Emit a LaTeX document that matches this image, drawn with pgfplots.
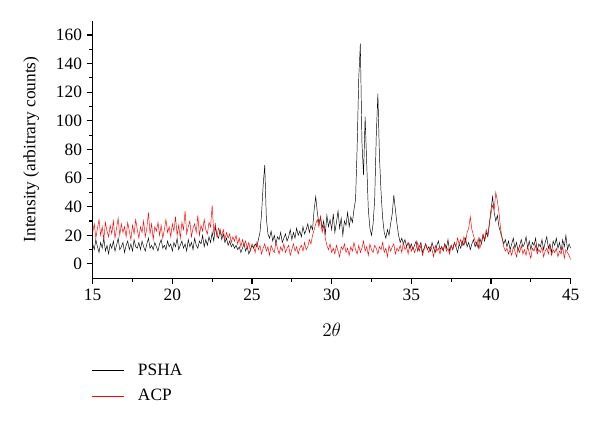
\documentclass[border=0pt]{standalone}
\usepackage{pgfplots}
\pgfplotsset{compat=1.18}
\usepackage{fontspec}
\setmainfont{Liberation Serif}

\begin{document}
\begin{tikzpicture}
\begin{axis}[
  name=ax,
  scale only axis,
  width=358.5pt, height=193.2pt,
  xmin=15, xmax=45, ymin=-10, ymax=170,
  axis x line*=bottom, axis y line*=left,
  axis line style={line width=0.9pt},
  xtick={15,20,...,45}, minor x tick num=1,
  ytick={0,20,...,160}, minor y tick num=1,
  tick align=outside,
  major tick length=4.5pt, minor tick length=2.5pt,
  tick style={line width=0.8pt, black},
  /pgf/number format/assume math mode=true,
  tick label style={font=\fontsize{13}{15}\selectfont},
  every axis x label/.style={at={(axis description cs:0.5,0)}, yshift=-39pt, anchor=center,
    font=\fontsize{13.5}{16}\selectfont},
  every axis y label/.style={at={(axis description cs:0,0.5)}, xshift=-46pt, rotate=90, anchor=center,
    font=\fontsize{13}{15}\selectfont},
  xlabel={$2\theta$},
  ylabel={Intensity (arbitrary counts)},
  legend cell align=left,
  legend style={at={(axis description cs:0,0)}, anchor=north west,
    xshift=-4pt, yshift=-60pt, draw=none, fill=none,
    font=\fontsize{13}{15}\selectfont, row sep=5pt, column sep=4pt,
    nodes={inner xsep=6pt}},
  legend image code/.code={\draw[mark repeat=2, mark phase=2, #1] plot coordinates {(0pt,0pt) (12pt,0pt) (24pt,0pt)};},
  legend image post style={line width=0.8pt},
]
% PSHA
\addplot[black, line width=0.35pt] coordinates {
(15.0,14) (15.1,10) (15.2,17) (15.3,12) (15.4,8) (15.5,15) (15.6,11) (15.7,18) (15.8,9) (15.9,13) (16.0,7)
(16.1,14) (16.2,11) (16.3,16) (16.4,9) (16.5,13) (16.6,18) (16.7,10) (16.8,12) (16.9,15) (17.0,8)
(17.1,13) (17.2,16) (17.3,10) (17.4,14) (17.5,9) (17.6,17) (17.7,12) (17.8,11) (17.9,15) (18.0,10)
(18.1,16) (18.2,12) (18.3,9) (18.4,14) (18.5,18) (18.6,11) (18.7,13) (18.8,10) (18.9,15) (19.0,12)
(19.1,9) (19.2,14) (19.3,17) (19.4,11) (19.5,13) (19.6,10) (19.7,16) (19.8,12) (19.9,14) (20.0,9)
(20.1,15) (20.2,12) (20.3,18) (20.4,10) (20.5,13) (20.6,16) (20.7,11) (20.8,14) (20.9,9) (21.0,17)
(21.1,12) (21.2,15) (21.3,10) (21.4,18) (21.5,13) (21.6,11) (21.7,16) (21.8,14) (21.9,20) (22.0,12)
(22.1,17) (22.2,13) (22.3,19) (22.4,15) (22.5,22) (22.6,16) (22.7,26) (22.8,20) (22.9,18) (23.0,24)
(23.1,17) (23.2,21) (23.3,15) (23.4,18) (23.5,13) (23.6,16) (23.7,12) (23.8,14) (23.9,11) (24.0,13)
(24.1,10) (24.2,12) (24.3,8) (24.4,11) (24.5,14) (24.6,9) (24.7,12) (24.8,7) (24.9,10) (25.0,13)
(25.1,11) (25.2,14) (25.3,12) (25.4,17) (25.5,22) (25.6,35) (25.7,55) (25.8,69) (25.9,32) (26.0,21)
(26.1,18) (26.2,23) (26.3,16) (26.4,20) (26.5,14) (26.6,19) (26.7,17) (26.8,22) (26.9,15) (27.0,18)
(27.1,21) (27.2,16) (27.3,19) (27.4,24) (27.5,17) (27.6,22) (27.7,18) (27.8,25) (27.9,20) (28.0,23)
(28.1,19) (28.2,26) (28.3,21) (28.4,24) (28.5,28) (28.6,22) (28.7,27) (28.8,24) (28.9,38) (29.0,47)
(29.1,36) (29.2,28) (29.3,33) (29.4,25) (29.5,30) (29.6,21) (29.7,34) (29.8,26) (29.9,31) (30.0,24)
(30.1,35) (30.2,22) (30.3,29) (30.4,37) (30.5,25) (30.6,32) (30.7,20) (30.8,30) (30.9,27) (31.0,36)
(31.1,26) (31.2,33) (31.3,29) (31.4,38) (31.5,45) (31.6,82) (31.7,130) (31.8,154) (31.9,85) (32.0,62)
(32.1,103) (32.2,70) (32.3,38) (32.4,25) (32.5,20) (32.6,28) (32.7,45) (32.8,90) (32.9,119) (33.0,75)
(33.1,50) (33.2,32) (33.3,22) (33.4,18) (33.5,24) (33.6,20) (33.7,28) (33.8,35) (33.9,48) (34.0,38)
(34.1,28) (34.2,20) (34.3,15) (34.4,18) (34.5,14) (34.6,17) (34.7,12) (34.8,15) (34.9,11) (35.0,14)
(35.1,10) (35.2,13) (35.3,16) (35.4,9) (35.5,12) (35.6,15) (35.7,8) (35.8,11) (35.9,14) (36.0,10)
(36.1,12) (36.2,9) (36.3,15) (36.4,11) (36.5,8) (36.6,13) (36.7,16) (36.8,10) (36.9,12) (37.0,9)
(37.1,14) (37.2,11) (37.3,17) (37.4,9) (37.5,13) (37.6,10) (37.7,15) (37.8,12) (37.9,8) (38.0,14)
(38.1,11) (38.2,16) (38.3,13) (38.4,18) (38.5,12) (38.6,15) (38.7,10) (38.8,14) (38.9,17) (39.0,12)
(39.1,15) (39.2,11) (39.3,18) (39.4,14) (39.5,20) (39.6,16) (39.7,22) (39.8,19) (39.9,28) (40.0,38)
(40.1,47) (40.2,36) (40.3,30) (40.4,34) (40.5,26) (40.6,22) (40.7,18) (40.8,14) (40.9,17) (41.0,12)
(41.1,16) (41.2,10) (41.3,14) (41.4,18) (41.5,11) (41.6,15) (41.7,9) (41.8,13) (41.9,17) (42.0,12)
(42.1,14) (42.2,19) (42.3,11) (42.4,16) (42.5,10) (42.6,15) (42.7,13) (42.8,18) (42.9,9) (43.0,14)
(43.1,12) (43.2,17) (43.3,10) (43.4,15) (43.5,19) (43.6,11) (43.7,14) (43.8,8) (43.9,16) (44.0,13)
(44.1,18) (44.2,11) (44.3,15) (44.4,9) (44.5,17) (44.6,12) (44.7,20) (44.8,10) (44.9,14) (45.0,11)
};
\addlegendentry{PSHA}
% ACP
\addplot[red, line width=0.35pt] coordinates {
(15.0,22) (15.1,28) (15.2,18) (15.3,25) (15.4,31) (15.5,20) (15.6,26) (15.7,17) (15.8,29) (15.9,23) (16.0,19)
(16.1,27) (16.2,21) (16.3,30) (16.4,18) (16.5,25) (16.6,32) (16.7,20) (16.8,28) (16.9,22) (17.0,26)
(17.1,19) (17.2,29) (17.3,23) (17.4,17) (17.5,27) (17.6,21) (17.7,31) (17.8,24) (17.9,18) (18.0,26)
(18.1,22) (18.2,30) (18.3,19) (18.4,25) (18.5,36) (18.6,21) (18.7,28) (18.8,17) (18.9,26) (19.0,23)
(19.1,29) (19.2,20) (19.3,27) (19.4,18) (19.5,24) (19.6,31) (19.7,22) (19.8,26) (19.9,19) (20.0,28)
(20.1,23) (20.2,33) (20.3,20) (20.4,27) (20.5,18) (20.6,29) (20.7,24) (20.8,37) (20.9,21) (21.0,26)
(21.1,30) (21.2,19) (21.3,25) (21.4,28) (21.5,22) (21.6,34) (21.7,20) (21.8,27) (21.9,23) (22.0,31)
(22.1,24) (22.2,21) (22.3,29) (22.4,26) (22.5,41) (22.6,22) (22.7,28) (22.8,19) (22.9,25) (23.0,22)
(23.1,20) (23.2,24) (23.3,17) (23.4,22) (23.5,18) (23.6,21) (23.7,15) (23.8,19) (23.9,16) (24.0,20)
(24.1,14) (24.2,18) (24.3,12) (24.4,17) (24.5,13) (24.6,16) (24.7,11) (24.8,15) (24.9,9) (25.0,14)
(25.1,12) (25.2,8) (25.3,15) (25.4,10) (25.5,13) (25.6,7) (25.7,11) (25.8,14) (25.9,9) (26.0,12)
(26.1,6) (26.2,13) (26.3,10) (26.4,8) (26.5,15) (26.6,11) (26.7,7) (26.8,12) (26.9,9) (27.0,14)
(27.1,8) (27.2,11) (27.3,13) (27.4,6) (27.5,10) (27.6,14) (27.7,9) (27.8,12) (27.9,7) (28.0,11)
(28.1,13) (28.2,9) (28.3,15) (28.4,10) (28.5,12) (28.6,17) (28.7,14) (28.8,20) (28.9,24) (29.0,28)
(29.1,31) (29.2,26) (29.3,33) (29.4,22) (29.5,27) (29.6,18) (29.7,13) (29.8,10) (29.9,14) (30.0,8)
(30.1,11) (30.2,7) (30.3,13) (30.4,9) (30.5,5) (30.6,12) (30.7,10) (30.8,14) (30.9,8) (31.0,11)
(31.1,6) (31.2,12) (31.3,9) (31.4,15) (31.5,10) (31.6,7) (31.7,13) (31.8,8) (31.9,11) (32.0,16)
(32.1,9) (32.2,12) (32.3,6) (32.4,14) (32.5,10) (32.6,8) (32.7,13) (32.8,11) (32.9,7) (33.0,12)
(33.1,10) (33.2,15) (33.3,8) (33.4,11) (33.5,5) (33.6,13) (33.7,9) (33.8,12) (33.9,14) (34.0,7)
(34.1,11) (34.2,9) (34.3,13) (34.4,8) (34.5,15) (34.6,10) (34.7,12) (34.8,7) (34.9,14) (35.0,9)
(35.1,12) (35.2,8) (35.3,11) (35.4,15) (35.5,9) (35.6,13) (35.7,6) (35.8,10) (35.9,14) (36.0,11)
(36.1,8) (36.2,12) (36.3,10) (36.4,5) (36.5,13) (36.6,9) (36.7,11) (36.8,7) (36.9,12) (37.0,10)
(37.1,14) (37.2,9) (37.3,11) (37.4,7) (37.5,13) (37.6,10) (37.7,15) (37.8,12) (37.9,18) (38.0,14)
(38.1,17) (38.2,13) (38.3,19) (38.4,15) (38.5,22) (38.6,25) (38.7,33) (38.8,24) (38.9,20) (39.0,16)
(39.1,13) (39.2,18) (39.3,11) (39.4,15) (39.5,21) (39.6,17) (39.7,24) (39.8,20) (39.9,29) (40.0,35)
(40.1,41) (40.2,38) (40.3,50) (40.4,44) (40.5,36) (40.6,25) (40.7,18) (40.8,12) (40.9,9) (41.0,11)
(41.1,7) (41.2,10) (41.3,6) (41.4,12) (41.5,9) (41.6,5) (41.7,11) (41.8,8) (41.9,13) (42.0,7)
(42.1,10) (42.2,6) (42.3,12) (42.4,8) (42.5,4) (42.6,11) (42.7,9) (42.8,13) (42.9,7) (43.0,10)
(43.1,8) (43.2,12) (43.3,5) (43.4,9) (43.5,11) (43.6,7) (43.7,13) (43.8,6) (43.9,10) (44.0,8)
(44.1,11) (44.2,5) (44.3,9) (44.4,7) (44.5,12) (44.6,4) (44.7,10) (44.8,8) (44.9,6) (45.0,3)
};
\addlegendentry{ACP}
\end{axis}
\path[use as bounding box] ([shift={(-69.5pt,-109.3pt)}]ax.south west) rectangle ([shift={(22pt,15.5pt)}]ax.north east);
\end{tikzpicture}
\end{document}
